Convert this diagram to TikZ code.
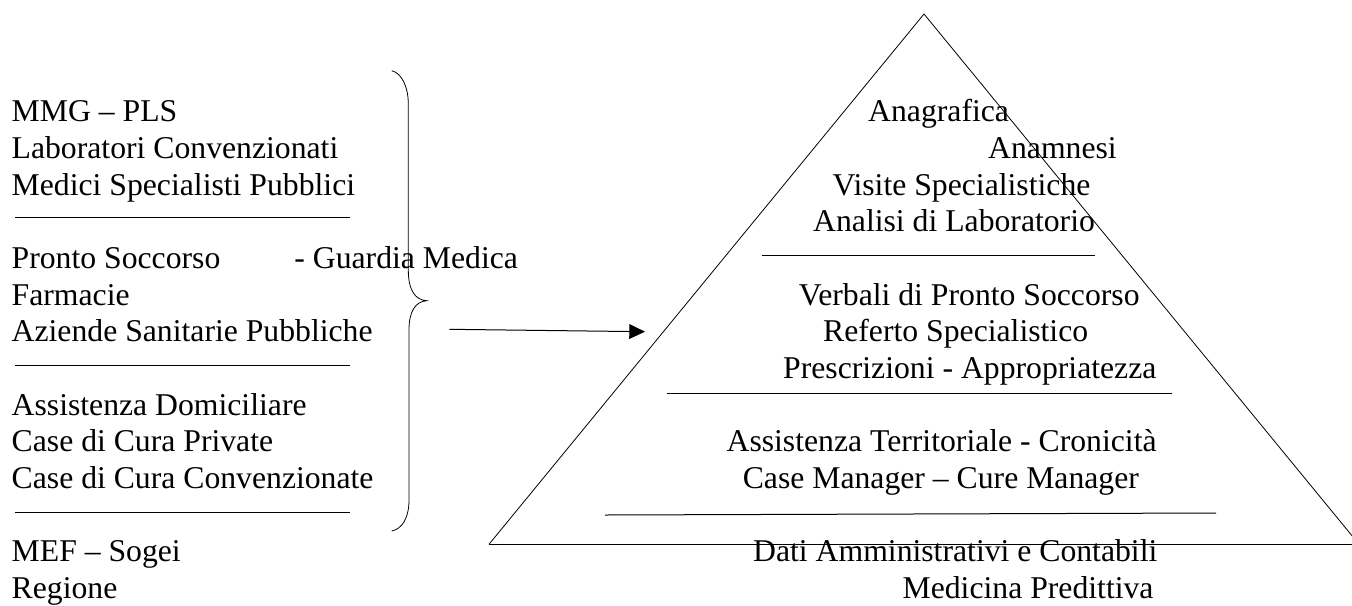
\documentclass[tikz,border=0pt]{standalone}
\usepackage{fontspec}
\setmainfont{Liberation Serif}
\usetikzlibrary{arrows.meta}
\newcommand\itemsize{\fontsize{15.85pt}{18.33pt}\selectfont}
\tikzset{
  entry/.style={anchor=base west, inner sep=0pt, font=\itemsize},
  rule/.style={line width=0.5pt},
  edge/.style={line width=0.4pt},
}
\begin{document}
\begin{tikzpicture}[x=0.5pt, y=-0.5pt]
\clip (0,0) rectangle (1352,605);

% ---- sources (left column) ----
\node[entry] (mmg)   at (11.3,121.7) {MMG – PLS};
\node[entry] (lab)   at (11.3,158.3) {Laboratori Convenzionati};
\node[entry] (spec)  at (11.3,195.0) {Medici Specialisti Pubblici};
\draw[rule] (15,217.3) -- (350,217.3);
\node[entry] (ps)    at (11.3,268.3) {Pronto Soccorso};
\node[entry] (gm)    at (294.0,268.3) {- Guardia Medica};
\node[entry] (farm)  at (11.3,305.0) {Farmacie};
\node[entry] (asp)   at (11.3,341.7) {Aziende Sanitarie Pubbliche};
\draw[rule] (15,365.7) -- (350,365.7);
\node[entry] (adom)  at (11.3,415.0) {Assistenza Domiciliare};
\node[entry] (ccp)   at (11.3,451.7) {Case di Cura Private};
\node[entry] (ccc)   at (11.3,488.3) {Case di Cura Convenzionate};
\draw[rule] (15,512.3) -- (350,512.3);
\node[entry] (mef)   at (11.3,561.7) {MEF – Sogei};
\node[entry] (reg)   at (11.3,598.3) {Regione};

% ---- curly brace grouping the sources ----
\draw[edge] (391.7,70.7) .. controls (402,73) and (408.3,88) .. (408.3,103)
  -- (408.3,270) .. controls (408.3,290) and (415,300) .. (426.7,300.7)
  .. controls (415,301.5) and (409,312) .. (409,330)
  -- (409,500) .. controls (409,518) and (402,529) .. (391.7,531);

% ---- arrow into the pyramid ----
\coordinate (arrS) at (449.3,329.3);
\coordinate (arrE) at (645,331.7);
\draw[rule, -{Triangle[length=7.85pt,width=7.35pt]}] (arrS) -- (arrE);

% ---- pyramid ----
\coordinate (apex) at (924,14);
\coordinate (bl) at (489,544.3);
\coordinate (br) at (1359,544.3);
\draw[edge] (bl) -- (apex) -- (br);
\draw[rule] (bl) -- (br);

\node[entry] (anag)  at (867.8,121.7) {Anagrafica};
\node[entry] (anam)  at (987.8,158.3) {Anamnesi};
\node[entry] (vis)   at (832.2,195.0) {Visite Specialistiche};
\node[entry] (anal)  at (812.8,231.7) {Analisi di Laboratorio};
\draw[rule] (761.7,255.7) -- (1095,255.7);
\node[entry] (verb)  at (798.5,305.0) {Verbali di Pronto Soccorso};
\node[entry] (ref)   at (822.8,341.7) {Referto Specialistico};
\node[entry] (presc) at (782.8,378.3) {Prescrizioni - Appropriatezza};
\draw[rule] (666.7,393.5) -- (1172,393.5);
\node[entry] (terr)  at (726.2,451.7) {Assistenza Territoriale - Cronicità};
\node[entry] (case)  at (742.4,488.3) {Case Manager – Cure Manager};
\draw[rule] (605,515) -- (1216,513);
\node[entry] (dati)  at (752.8,561.7) {Dati Amministrativi e Contabili};
\node[entry] (pred)  at (902.2,598.3) {Medicina Predittiva};
\end{tikzpicture}
\end{document}
